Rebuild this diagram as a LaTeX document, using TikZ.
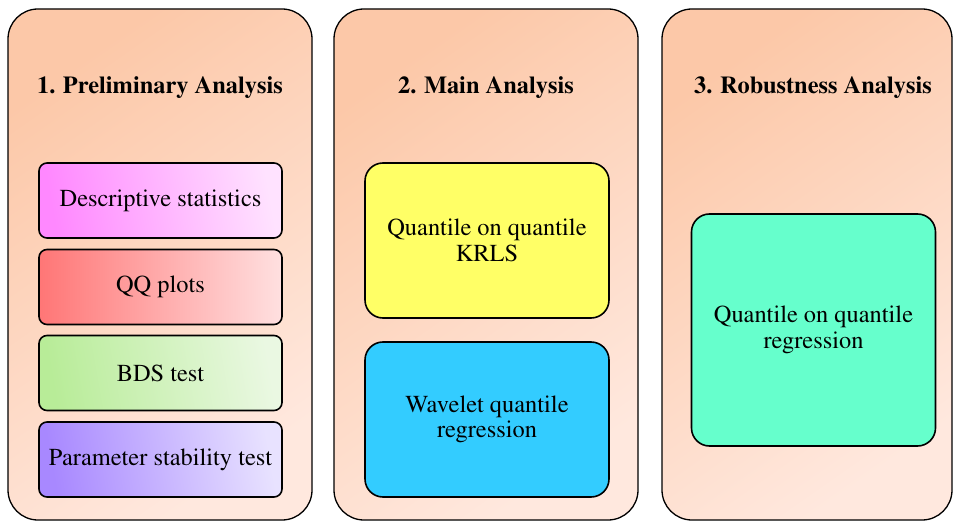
\documentclass[tikz,border=0pt]{standalone}
\usepackage[T1]{fontenc}
\usepackage{mathptmx}
\definecolor{panelA}{HTML}{FCC8A8}
\definecolor{panelB}{HTML}{FFE8DE}
\definecolor{magA}{HTML}{FF88FF}
\definecolor{magB}{HTML}{FFE2FF}
\definecolor{redA}{HTML}{FF7676}
\definecolor{redB}{HTML}{FFE0E0}
\definecolor{grnA}{HTML}{B8EC98}
\definecolor{grnB}{HTML}{EAF8E2}
\definecolor{purA}{HTML}{A888FF}
\definecolor{purB}{HTML}{E8E2FF}
\definecolor{yel}{HTML}{FFFF66}
\definecolor{sky}{HTML}{33CCFF}
\definecolor{aqua}{HTML}{66FFCC}
\tikzset{
  panel/.style={draw=black, line width=1.3pt, rounded corners=30pt,
    top color=panelA, bottom color=panelB, shading angle=35,
    minimum height=511pt, inner sep=0pt},
  title/.style={font=\bfseries\fontsize{24.4}{26}\selectfont, inner sep=0pt},
  smallbox/.style={draw=black, line width=1.6pt, rounded corners=8pt,
    minimum width=243pt, minimum height=75pt, inner sep=0pt,
    font=\fontsize{24.4}{25.5}\selectfont, align=center},
  bigbox/.style={draw=black, line width=1.6pt, rounded corners=18pt,
    minimum width=244pt, inner sep=0pt,
    font=\fontsize{24.4}{25.5}\selectfont, align=center},
}
\begin{document}
\begin{tikzpicture}[x=1pt, y=-1pt]
\useasboundingbox (0,0) rectangle (953,521);
% column panels
\node[panel, minimum width=304pt] (p1) at (160,264.5) {};
\node[panel, minimum width=304pt] (p2) at (486,264.5) {};
\node[panel, minimum width=290pt] (p3) at (807,264.5) {};
% column titles
\node[title] (t1) at (160,87.5) {1. Preliminary Analysis};
\node[title] (t2) at (486,87.5) {2. Main Analysis};
\node[title] (t3) at (813,87.5) {3. Robustness Analysis};
% preliminary steps
\node[smallbox, left color=magA, right color=magB, shading angle=100] (b1) at (160.5,200.5) {Descriptive statistics};
\node[smallbox, left color=redA, right color=redB] (b2) at (160.5,287) {QQ plots};
\node[smallbox, left color=grnA, right color=grnB, shading angle=100] (b3) at (160.5,373) {BDS test};
\node[smallbox, left color=purA, right color=purB, shading angle=100] (b4) at (160.5,459.5) {Parameter stability test};
% main analysis
\node[bigbox, fill=yel, minimum height=155pt] (m1) at (487,240.5) {Quantile on quantile\\KRLS};
\node[bigbox, fill=sky, minimum height=155pt] (m2) at (487,419.5) {Wavelet quantile\\regression};
% robustness
\node[bigbox, fill=aqua, minimum height=232pt] (r1) at (813.5,330) {Quantile on quantile\\regression};
\end{tikzpicture}
\end{document}
